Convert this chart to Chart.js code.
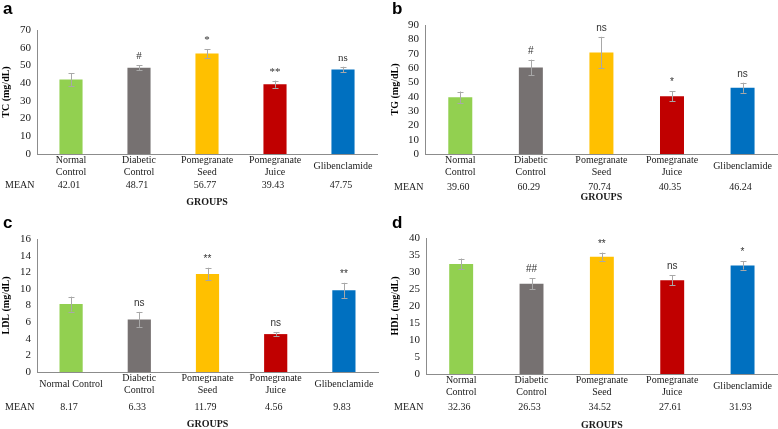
<!DOCTYPE html>
<html>
<head>
<meta charset="utf-8">
<script src="https://cdn.jsdelivr.net/npm/chart.js@4.4.1/dist/chart.umd.min.js"></script>
<style>
html, body { margin: 0; padding: 0; background: #fff; }
#wrap { position: relative; width: 778px; height: 429px; overflow: hidden; }
canvas { position: absolute; }
</style>
</head>
<body>
<div id="wrap">
  <canvas id="chartA" width="389" height="214" style="left:0;top:0"></canvas>
  <canvas id="chartB" width="389" height="214" style="left:389px;top:0"></canvas>
  <canvas id="chartC" width="389" height="215" style="left:0;top:214px"></canvas>
  <canvas id="chartD" width="389" height="215" style="left:389px;top:214px"></canvas>
</div>
<script>
// groups (x categories)
const groups = [['Normal', 'Control'], ['Diabetic', 'Control'], ['Pomegranate', 'Seed'], ['Pomegranate', 'Juice'], 'Glibenclamide'];
const groupsLdl = ['Normal Control', ['Diabetic', 'Control'], ['Pomegranate', 'Seed'], ['Pomegranate', 'Juice'], 'Glibenclamide'];
const colors = ['#92D050', '#767171', '#FFC000', '#C00000', '#0070C0'];

// a - total cholesterol
const tcMean = [42.01, 48.71, 56.77, 39.43, 47.75];
const tcErr = [3.5, 1.5, 2.4, 2.0, 1.5];
const tcSig = ['', '#', '*', '**', 'ns'];
const tcTicks = [0, 70, 10]; // min, max, step

// b - triglycerides
const tgMean = [39.60, 60.29, 70.74, 40.35, 46.24];
const tgErr = [4.0, 5.5, 11.0, 3.5, 3.5];
const tgSig = ['', '#', 'ns', '*', 'ns'];
const tgTicks = [0, 90, 10];

// c - LDL
const ldlMean = [8.17, 6.33, 11.79, 4.56, 9.83];
const ldlErr = [0.9, 0.9, 0.75, 0.2, 0.9];
const ldlSig = ['', 'ns', '**', 'ns', '**'];
const ldlTicks = [0, 16, 2];

// d - HDL
const hdlMean = [32.36, 26.53, 34.52, 27.61, 31.93];
const hdlErr = [1.6, 1.6, 1.2, 1.5, 1.2];
const hdlSig = ['', '##', '**', 'ns', '*'];
const hdlTicks = [0, 40, 5];

const serif = "'Liberation Serif', 'Times New Roman', serif";
const sans = "'Liberation Sans', Arial, sans-serif";

// draws error bars, significance marks, MEAN row, GROUPS and panel letter
function extras(cfg) {
    return {
        id: 'extras',
        afterDatasetsDraw(chart) {
            const ctx = chart.ctx;
            const meta = chart.getDatasetMeta(0);
            const y = chart.scales.y;
            ctx.save();
            meta.data.forEach(function(bar, i) {
                const top = y.getPixelForValue(cfg.mean[i] + cfg.err[i]);
                const bot = y.getPixelForValue(cfg.mean[i] - cfg.err[i]);
                ctx.strokeStyle = '#a8a8a8';
                ctx.lineWidth = 1;
                ctx.beginPath();
                ctx.moveTo(Math.round(bar.x) + 0.5, top);
                ctx.lineTo(Math.round(bar.x) + 0.5, bot);
                ctx.moveTo(Math.round(bar.x) - 2.5, Math.round(top) + 0.5);
                ctx.lineTo(Math.round(bar.x) + 3.5, Math.round(top) + 0.5);
                ctx.moveTo(Math.round(bar.x) - 2.5, Math.round(bot) + 0.5);
                ctx.lineTo(Math.round(bar.x) + 3.5, Math.round(bot) + 0.5);
                ctx.stroke();

                ctx.fillStyle = '#333';
                ctx.font = cfg.sigFont;
                ctx.textAlign = 'center';
                ctx.textBaseline = 'alphabetic';
                ctx.fillText(cfg.sig[i], bar.x, top - 6);
            });
            ctx.restore();
        },
        afterDraw(chart) {
            const ctx = chart.ctx;
            const area = chart.chartArea;
            const meta = chart.getDatasetMeta(0);
            ctx.save();
            ctx.fillStyle = '#1a1a1a';
            ctx.textBaseline = 'middle';
            ctx.font = '10px ' + serif;
            ctx.textAlign = 'left';
            ctx.fillText('MEAN', 5, area.bottom + cfg.meanDy);
            ctx.textAlign = 'center';
            meta.data.forEach(function(bar, i) {
                ctx.fillText(cfg.mean[i].toFixed(2), bar.x - 2, area.bottom + cfg.meanDy);
            });
            ctx.font = 'bold 10px ' + serif;
            ctx.fillText('GROUPS', (area.left + area.right) / 2, area.bottom + cfg.groupsDy);

            ctx.font = 'bold 17px ' + sans;
            ctx.textAlign = 'left';
            ctx.textBaseline = 'top';
            ctx.fillStyle = '#000';
            ctx.fillText(cfg.letter, 3, 1);
            ctx.restore();
        }
    };
}

function makePanel(id, cfg) {
    const canvas = document.getElementById(id);
    return new Chart(canvas, {
        type: 'bar',
        data: {
            labels: cfg.labels,
            datasets: [{
                data: cfg.mean,
                backgroundColor: colors,
                barPercentage: 0.34,
                categoryPercentage: 1
            }]
        },
        options: {
            responsive: false,
            animation: false,
            layout: { padding: { left: 0, top: cfg.box.top, right: canvas.width - cfg.box.right, bottom: 0 } },
            plugins: { legend: { display: false }, tooltip: { enabled: false } },
            scales: {
                x: {
                    grid: { display: false, drawTicks: false },
                    border: { color: '#8c8c8c' },
                    ticks: {
                        color: '#1a1a1a',
                        font: { family: serif, size: 10, lineHeight: 1.25 },
                        padding: 6,
                        crossAlign: 'center',
                        autoSkip: false,
                        maxRotation: 0
                    },
                    afterFit: function(s) { s.height = canvas.height - cfg.box.bottom; }
                },
                y: {
                    min: cfg.ticks[0],
                    max: cfg.ticks[1],
                    grid: { display: false, drawTicks: false },
                    border: { color: '#8c8c8c' },
                    ticks: {
                        stepSize: cfg.ticks[2],
                        autoSkip: false,
                        color: '#1a1a1a',
                        font: { family: serif, size: 11 },
                        padding: 6
                    },
                    title: { display: true, text: cfg.title, color: '#000', font: { family: serif, size: 10, weight: 'bold' }, padding: 0 },
                    afterFit: function(s) { s.width = cfg.box.left; }
                }
            }
        },
        plugins: [extras(cfg)]
    });
}

makePanel('chartA', {
    letter: 'a', title: 'TC (mg/dL)', labels: groups,
    mean: tcMean, err: tcErr, sig: tcSig, ticks: tcTicks,
    sigFont: '11px ' + serif,
    box: { left: 37, top: 30, right: 377, bottom: 154 }, meanDy: 31, groupsDy: 48
});
makePanel('chartB', {
    letter: 'b', title: 'TG (mg/dL)', labels: groups,
    mean: tgMean, err: tgErr, sig: tgSig, ticks: tgTicks,
    sigFont: '10px ' + sans,
    box: { left: 36, top: 25, right: 389, bottom: 154 }, meanDy: 33, groupsDy: 43
});
makePanel('chartC', {
    letter: 'c', title: 'LDL (mg/dL)', labels: groupsLdl,
    mean: ldlMean, err: ldlErr, sig: ldlSig, ticks: ldlTicks,
    sigFont: '10px ' + sans,
    box: { left: 37, top: 25, right: 378, bottom: 158 }, meanDy: 35, groupsDy: 52
});
makePanel('chartD', {
    letter: 'd', title: 'HDL (mg/dL)', labels: groups,
    mean: hdlMean, err: hdlErr, sig: hdlSig, ticks: hdlTicks,
    sigFont: '10px ' + sans,
    box: { left: 37, top: 24, right: 389, bottom: 160 }, meanDy: 33, groupsDy: 51
});
</script>
</body>
</html>
